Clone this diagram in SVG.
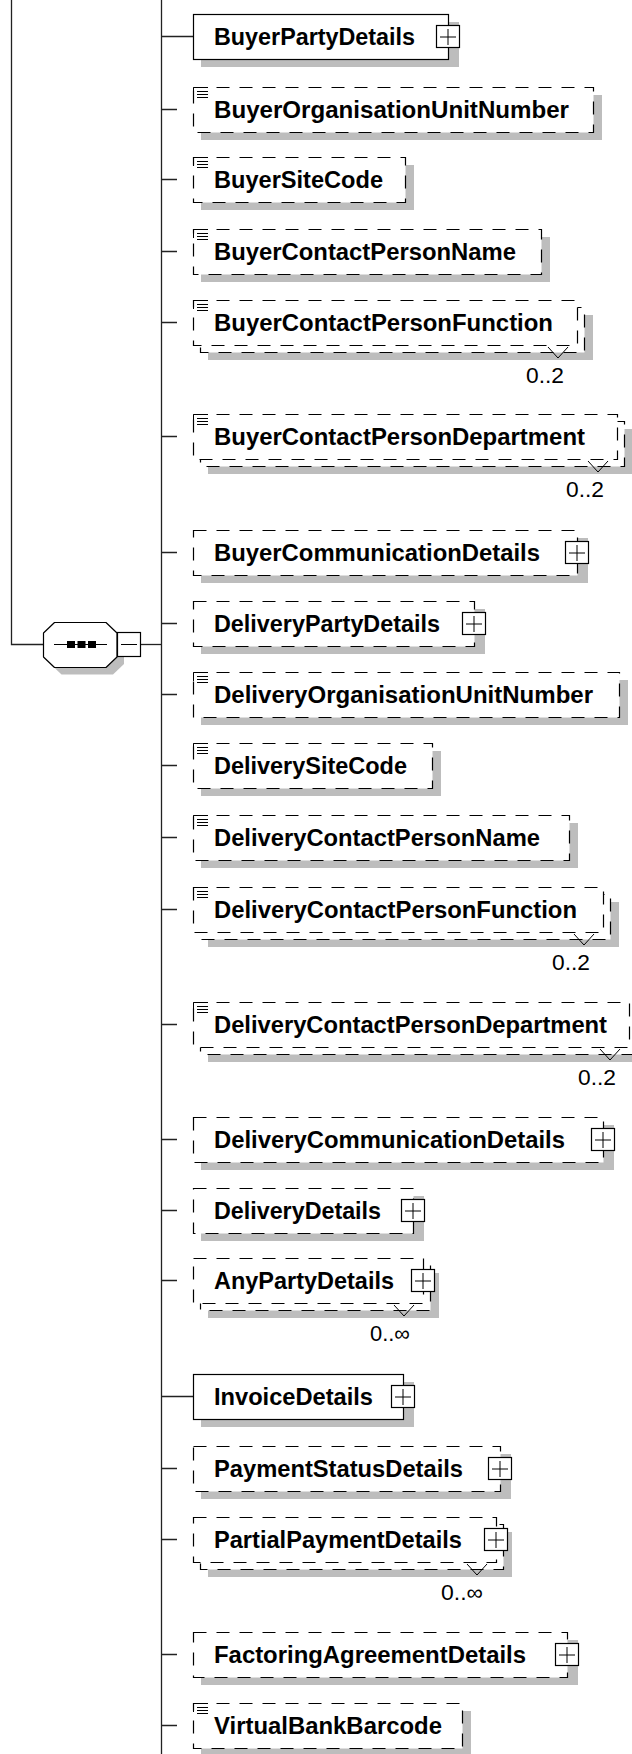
<svg xmlns="http://www.w3.org/2000/svg" xmlns:xlink="http://www.w3.org/1999/xlink" width="632" height="1754" viewBox="0 0 632 1754">
<style>
.sh{fill:#bdbdbd;stroke:none}
.bx{fill:#fff;stroke:#000;stroke-width:1.2}
.ds{stroke-dasharray:13 10}
.ln{fill:none;stroke:#000;stroke-width:1}
.c{fill:none;stroke:#222;stroke-width:1.3}
.t{font-family:"Liberation Sans",Arial,sans-serif;font-weight:bold;font-size:23px;fill:#000}
.o{font-family:"Liberation Sans",Arial,sans-serif;font-size:22px;fill:#000;text-anchor:end}
</style>
<defs>
<g id="plus"><rect class="bx" x="0.5" y="0.5" width="23" height="22"/><path class="ln" d="M4 12H20M12 4V20"/></g>
<g id="eq"><path class="ln" d="M0.5 9V0.5H15M4 4.5H15M4 7.5H15M4 10.5H15"/></g>
</defs>
<rect width="632" height="1754" fill="#fff"/>

<g id="connectors">
<path class="c" d="M11.5 0V644.5H43.5"/>
<path class="c" d="M141 644.5H161.5"/>
<path class="c" d="M161.5 0V1754"/>
<path class="c" d="M161.5 36.5H193M161.5 1396.5H193"/>
<path class="c" d="M161.5 109.5H177M161.5 179.5H177M161.5 251.5H177M161.5 322.5H177M161.5 436.5H177M161.5 552.5H177M161.5 623.5H177M161.5 694.5H177M161.5 765.5H177M161.5 837.5H177M161.5 909.5H177M161.5 1024.5H177M161.5 1139.5H177M161.5 1210.5H177M161.5 1280.5H177M161.5 1468.5H177M161.5 1539.5H177M161.5 1654.5H177M161.5 1725.5H177"/>
</g>

<g id="sequence">
<polygon class="sh" points="61.5,629.5 113,629.5 124,640 124,664 113,674.5 61.5,674.5 50.5,664 50.5,640"/>
<polygon class="bx" stroke-linejoin="round" points="54.5,622.5 106,622.5 117,633 117,657 106,667.5 54.5,667.5 43.5,657 43.5,633"/>
<path class="ln" d="M54 644.5H107"/>
<rect x="67" y="641" width="8" height="7" fill="#000"/>
<rect x="77.5" y="641" width="8" height="7" fill="#000"/>
<rect x="88" y="641" width="8" height="7" fill="#000"/>
<rect class="bx" x="117.5" y="632.5" width="23" height="24"/>
<path class="ln" d="M121 644.5H137"/>
</g>

<g id="BuyerPartyDetails">
<rect class="sh" x="201" y="22" width="258" height="45"/>
<rect class="bx" x="193.5" y="14.5" width="255" height="45"/>
<use xlink:href="#plus" x="436" y="25"/>
<text class="t" x="214" y="45" textLength="201" lengthAdjust="spacingAndGlyphs">BuyerPartyDetails</text>
</g>

<g id="BuyerOrganisationUnitNumber">
<rect class="sh" x="201" y="95" width="401" height="45"/>
<rect class="bx ds" x="193.5" y="87.5" width="400" height="45"/>
<use xlink:href="#eq" x="193" y="87"/>
<text class="t" x="214" y="118" textLength="355" lengthAdjust="spacingAndGlyphs">BuyerOrganisationUnitNumber</text>
</g>

<g id="BuyerSiteCode">
<rect class="sh" x="201" y="165" width="213" height="45"/>
<rect class="bx ds" x="193.5" y="157.5" width="212" height="45"/>
<use xlink:href="#eq" x="193" y="157"/>
<text class="t" x="214" y="188" textLength="169" lengthAdjust="spacingAndGlyphs">BuyerSiteCode</text>
</g>

<g id="BuyerContactPersonName">
<rect class="sh" x="201" y="237" width="349" height="45"/>
<rect class="bx ds" x="193.5" y="229.5" width="348" height="45"/>
<use xlink:href="#eq" x="193" y="229"/>
<text class="t" x="214" y="260" textLength="302" lengthAdjust="spacingAndGlyphs">BuyerContactPersonName</text>
</g>

<g id="BuyerContactPersonFunction">
<rect class="sh" x="208" y="315" width="385" height="45"/>
<rect class="bx ds" x="200.5" y="307.5" width="384" height="45"/>
<rect class="bx ds" x="193.5" y="300.5" width="384" height="45"/>
<use xlink:href="#eq" x="193" y="300"/>
<path class="ln" d="M548 347L558 358L568 347"/>
<text class="t" x="214" y="331" textLength="339" lengthAdjust="spacingAndGlyphs">BuyerContactPersonFunction</text>
<text class="o" x="564" y="383" textLength="38" lengthAdjust="spacingAndGlyphs">0..2</text>
</g>

<g id="BuyerContactPersonDepartment">
<rect class="sh" x="208" y="429" width="425" height="45"/>
<rect class="bx ds" x="200.5" y="421.5" width="424" height="45"/>
<rect class="bx ds" x="193.5" y="414.5" width="424" height="45"/>
<use xlink:href="#eq" x="193" y="414"/>
<path class="ln" d="M588 461L598 472L608 461"/>
<text class="t" x="214" y="445" textLength="371" lengthAdjust="spacingAndGlyphs">BuyerContactPersonDepartment</text>
<text class="o" x="604" y="497" textLength="38" lengthAdjust="spacingAndGlyphs">0..2</text>
</g>

<g id="BuyerCommunicationDetails">
<rect class="sh" x="201" y="538" width="387" height="45"/>
<rect class="bx ds" x="193.5" y="530.5" width="384" height="45"/>
<use xlink:href="#plus" x="565" y="541"/>
<text class="t" x="214" y="561" textLength="326" lengthAdjust="spacingAndGlyphs">BuyerCommunicationDetails</text>
</g>

<g id="DeliveryPartyDetails">
<rect class="sh" x="201" y="609" width="284" height="45"/>
<rect class="bx ds" x="193.5" y="601.5" width="281" height="45"/>
<use xlink:href="#plus" x="462" y="612"/>
<text class="t" x="214" y="632" textLength="226" lengthAdjust="spacingAndGlyphs">DeliveryPartyDetails</text>
</g>

<g id="DeliveryOrganisationUnitNumber">
<rect class="sh" x="201" y="680" width="427" height="45"/>
<rect class="bx ds" x="193.5" y="672.5" width="426" height="45"/>
<use xlink:href="#eq" x="193" y="672"/>
<text class="t" x="214" y="703" textLength="379" lengthAdjust="spacingAndGlyphs">DeliveryOrganisationUnitNumber</text>
</g>

<g id="DeliverySiteCode">
<rect class="sh" x="201" y="751" width="240" height="45"/>
<rect class="bx ds" x="193.5" y="743.5" width="239" height="45"/>
<use xlink:href="#eq" x="193" y="743"/>
<text class="t" x="214" y="774" textLength="193" lengthAdjust="spacingAndGlyphs">DeliverySiteCode</text>
</g>

<g id="DeliveryContactPersonName">
<rect class="sh" x="201" y="823" width="377" height="45"/>
<rect class="bx ds" x="193.5" y="815.5" width="376" height="45"/>
<use xlink:href="#eq" x="193" y="815"/>
<text class="t" x="214" y="846" textLength="326" lengthAdjust="spacingAndGlyphs">DeliveryContactPersonName</text>
</g>

<g id="DeliveryContactPersonFunction">
<rect class="sh" x="208" y="902" width="411" height="45"/>
<rect class="bx ds" x="200.5" y="894.5" width="410" height="45"/>
<rect class="bx ds" x="193.5" y="887.5" width="410" height="45"/>
<use xlink:href="#eq" x="193" y="887"/>
<path class="ln" d="M574 934L584 945L594 934"/>
<text class="t" x="214" y="918" textLength="363" lengthAdjust="spacingAndGlyphs">DeliveryContactPersonFunction</text>
<text class="o" x="590" y="970" textLength="38" lengthAdjust="spacingAndGlyphs">0..2</text>
</g>

<g id="DeliveryContactPersonDepartment">
<rect class="sh" x="208" y="1017" width="437" height="45"/>
<rect class="bx ds" x="200.5" y="1009.5" width="436" height="45"/>
<rect class="bx ds" x="193.5" y="1002.5" width="436" height="45"/>
<use xlink:href="#eq" x="193" y="1002"/>
<path class="ln" d="M600 1049L610 1060L620 1049"/>
<text class="t" x="214" y="1033" textLength="393" lengthAdjust="spacingAndGlyphs">DeliveryContactPersonDepartment</text>
<text class="o" x="616" y="1085" textLength="38" lengthAdjust="spacingAndGlyphs">0..2</text>
</g>

<g id="DeliveryCommunicationDetails">
<rect class="sh" x="201" y="1125" width="413" height="45"/>
<rect class="bx ds" x="193.5" y="1117.5" width="410" height="45"/>
<use xlink:href="#plus" x="591" y="1128"/>
<text class="t" x="214" y="1148" textLength="351" lengthAdjust="spacingAndGlyphs">DeliveryCommunicationDetails</text>
</g>

<g id="DeliveryDetails">
<rect class="sh" x="201" y="1196" width="223" height="45"/>
<rect class="bx ds" x="193.5" y="1188.5" width="220" height="45"/>
<use xlink:href="#plus" x="401" y="1199"/>
<text class="t" x="214" y="1219" textLength="167" lengthAdjust="spacingAndGlyphs">DeliveryDetails</text>
</g>

<g id="AnyPartyDetails">
<rect class="sh" x="208" y="1273" width="231" height="45"/>
<rect class="bx ds" x="200.5" y="1265.5" width="230" height="45"/>
<rect class="bx ds" x="193.5" y="1258.5" width="230" height="45"/>
<use xlink:href="#plus" x="411" y="1269"/>
<path class="ln" d="M394 1305L404 1316L414 1305"/>
<text class="t" x="214" y="1289" textLength="180" lengthAdjust="spacingAndGlyphs">AnyPartyDetails</text>
<text class="o" x="410" y="1341" textLength="40" lengthAdjust="spacingAndGlyphs">0..∞</text>
</g>

<g id="InvoiceDetails">
<rect class="sh" x="201" y="1382" width="213" height="45"/>
<rect class="bx" x="193.5" y="1374.5" width="210" height="45"/>
<use xlink:href="#plus" x="391" y="1385"/>
<text class="t" x="214" y="1405" textLength="159" lengthAdjust="spacingAndGlyphs">InvoiceDetails</text>
</g>

<g id="PaymentStatusDetails">
<rect class="sh" x="201" y="1454" width="310" height="45"/>
<rect class="bx ds" x="193.5" y="1446.5" width="307" height="45"/>
<use xlink:href="#plus" x="488" y="1457"/>
<text class="t" x="214" y="1477" textLength="249" lengthAdjust="spacingAndGlyphs">PaymentStatusDetails</text>
</g>

<g id="PartialPaymentDetails">
<rect class="sh" x="208" y="1532" width="304" height="45"/>
<rect class="bx ds" x="200.5" y="1524.5" width="303" height="45"/>
<rect class="bx ds" x="193.5" y="1517.5" width="303" height="45"/>
<use xlink:href="#plus" x="484" y="1528"/>
<path class="ln" d="M467 1564L477 1575L487 1564"/>
<text class="t" x="214" y="1548" textLength="248" lengthAdjust="spacingAndGlyphs">PartialPaymentDetails</text>
<text class="o" x="483" y="1600" textLength="42" lengthAdjust="spacingAndGlyphs">0..∞</text>
</g>

<g id="FactoringAgreementDetails">
<rect class="sh" x="201" y="1640" width="377" height="45"/>
<rect class="bx ds" x="193.5" y="1632.5" width="374" height="45"/>
<use xlink:href="#plus" x="555" y="1643"/>
<text class="t" x="214" y="1663" textLength="312" lengthAdjust="spacingAndGlyphs">FactoringAgreementDetails</text>
</g>

<g id="VirtualBankBarcode">
<rect class="sh" x="201" y="1711" width="270" height="45"/>
<rect class="bx ds" x="193.5" y="1703.5" width="269" height="45"/>
<use xlink:href="#eq" x="193" y="1703"/>
<text class="t" x="214" y="1734" textLength="228" lengthAdjust="spacingAndGlyphs">VirtualBankBarcode</text>
</g>
</svg>
